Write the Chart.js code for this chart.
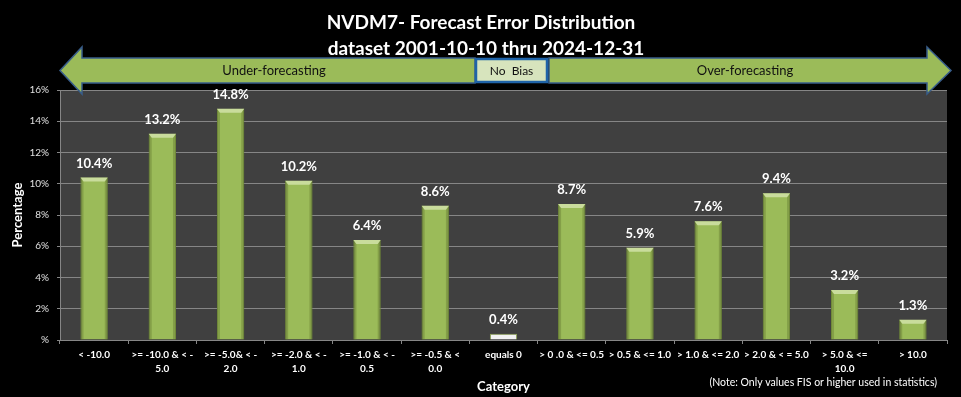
<!DOCTYPE html>
<html>
<head>
<meta charset="utf-8">
<script src="https://cdn.jsdelivr.net/npm/chart.js@4/dist/chart.umd.min.js"></script>
<style>
  html, body { margin: 0; padding: 0; background: #000; }
  #wrap { width: 961px; height: 397px; }
</style>
</head>
<body>
<div id="wrap"><canvas id="chart"></canvas></div>
<script>
const FONT = "Lato, 'Liberation Sans', Arial, sans-serif";

// categories (multi-line as in the original)
const categories = [
  ['< -10.0'],
  ['>= -10.0 & < -', '5.0'],
  ['>= -5.0& < -', '2.0'],
  ['>= -2.0 & < -', '1.0'],
  ['>= -1.0 & < -', '0.5'],
  ['>= -0.5 & <', '0.0'],
  ['equals 0'],
  ['> 0 .0 & <= 0.5'],
  ['> 0.5 & <= 1.0'],
  ['> 1.0 & <= 2.0'],
  ['> 2.0 & < = 5.0'],
  ['> 5.0 & <=', '10.0'],
  ['> 10.0']
];
const percentages = [10.4, 13.2, 14.8, 10.2, 6.4, 8.6, 0.4, 8.7, 5.9, 7.6, 9.4, 3.2, 1.3];
const yTicks = [0, 2, 4, 6, 8, 10, 12, 14, 16];
const titleLines = ['NVDM7- Forecast Error Distribution', 'dataset 2001-10-10 thru 2024-12-31'];
const zeroIndex = 6;

const frame = {
  id: 'frame',
  beforeDraw(chart) {
    const { ctx, chartArea: a } = chart;
    ctx.save();
    ctx.fillStyle = '#000';
    ctx.fillRect(0, 0, chart.width, chart.height);
    ctx.fillStyle = '#404040';
    ctx.fillRect(a.left, a.top, a.right - a.left, a.bottom - a.top);
    ctx.restore();
  },
  afterDatasetsDraw(chart) {
    const { ctx } = chart;
    const meta = chart.getDatasetMeta(0);
    ctx.save();
    meta.data.forEach((bar, i) => {
      const w = bar.width, l = bar.x - w / 2, r = bar.x + w / 2, t = bar.y, b = bar.base;
      if (i !== zeroIndex) {
        // side shading
        ctx.fillStyle = 'rgba(90,110,40,0.35)';
        ctx.fillRect(l, t, 3, b - t);
        ctx.fillRect(r - 3, t, 3, b - t);
        // top bevel
        ctx.fillStyle = '#c9dc9c';
        ctx.beginPath();
        ctx.moveTo(l, t); ctx.lineTo(r, t); ctx.lineTo(r - 3, t + 4); ctx.lineTo(l + 3, t + 4);
        ctx.closePath(); ctx.fill();
      }
      // value label
      ctx.fillStyle = '#fff';
      ctx.font = 'bold 13px ' + FONT;
      ctx.textAlign = 'center';
      ctx.textBaseline = 'middle';
      ctx.fillText(percentages[i].toFixed(1) + '%', bar.x, t - 14);
    });
    ctx.restore();
  },
  afterDraw(chart) {
    const { ctx } = chart;
    ctx.save();
    // title
    ctx.fillStyle = '#fff';
    ctx.textAlign = 'center';
    ctx.textBaseline = 'middle';
    ctx.font = 'bold 19px ' + FONT;
    ctx.fillText(titleLines[0], 481, 23);
    ctx.fillText(titleLines[1], 486, 49);

    // arrows
    ctx.fillStyle = '#9bbb59';
    ctx.strokeStyle = '#385d8a';
    ctx.lineWidth = 1.5;
    ctx.beginPath();
    ctx.moveTo(475, 58); ctx.lineTo(82, 58); ctx.lineTo(82, 47); ctx.lineTo(60, 70.5);
    ctx.lineTo(82, 94); ctx.lineTo(82, 83); ctx.lineTo(475, 83); ctx.closePath();
    ctx.fill(); ctx.stroke();
    ctx.beginPath();
    ctx.moveTo(549, 58); ctx.lineTo(927, 58); ctx.lineTo(927, 47); ctx.lineTo(951, 70.5);
    ctx.lineTo(927, 94); ctx.lineTo(927, 83); ctx.lineTo(549, 83); ctx.closePath();
    ctx.fill(); ctx.stroke();

    // no bias box
    ctx.fillStyle = '#d7e4bd';
    ctx.fillRect(476, 59, 71, 23);
    ctx.strokeStyle = '#1f63a8';
    ctx.lineWidth = 2.5;
    ctx.strokeRect(476, 59, 71, 23);

    ctx.fillStyle = '#111';
    ctx.font = '12px ' + FONT;
    ctx.fillText('No  Bias', 511.5, 71);
    ctx.font = '13px ' + FONT;
    ctx.fillText('Under-forecasting', 274, 71);
    ctx.fillText('Over-forecasting', 745, 71);

    // note
    ctx.fillStyle = '#fff';
    ctx.textAlign = 'right';
    ctx.font = '10.5px ' + FONT;
    ctx.fillText('(Note: Only values FIS or higher used in statistics)', 937, 383);
    ctx.restore();
  }
};

new Chart(document.getElementById('chart'), {
  type: 'bar',
  data: {
    labels: categories,
    datasets: [{
      data: percentages,
      backgroundColor: percentages.map((v, i) => i === zeroIndex ? '#f2f2f2' : '#9bbb59'),
      borderColor: percentages.map((v, i) => i === zeroIndex ? '#8aa24e' : '#7e9a44'),
      borderWidth: 1,
      barPercentage: 0.8,
      categoryPercentage: 0.5
    }]
  },
  options: {
    responsive: true,
    maintainAspectRatio: false,
    animation: false,
    layout: { padding: { top: 90, right: 14, left: 0, bottom: 0 } },
    plugins: { legend: { display: false }, tooltip: { enabled: false } },
    scales: {
      x: {
        afterFit: s => { s.height = 57; },
        grid: { drawOnChartArea: false, color: '#868686', tickLength: 4, offset: true },
        border: { color: '#868686' },
        ticks: {
          color: '#fff', maxRotation: 0, autoSkip: false, padding: 4,
          font: { family: FONT, size: 10, weight: 'bold', lineHeight: 1.4 }
        },
        title: {
          display: true, text: 'Category', color: '#fff',
          font: { family: FONT, size: 13, weight: 'bold', lineHeight: 1.2 },
          padding: { top: 0, bottom: 2 }
        }
      },
      y: {
        min: 0, max: 16,
        afterFit: s => { s.width = 60; },
        afterBuildTicks: s => { s.ticks = yTicks.map(v => ({ value: v })); },
        grid: { color: '#868686', tickLength: 3 },
        border: { color: '#868686' },
        ticks: {
          color: '#e0e0e0', padding: 8,
          font: { family: FONT, size: 10 },
          callback: v => v === 0 ? '%' : v + '%'
        },
        title: {
          display: true, text: 'Percentage', color: '#fff',
          font: { family: FONT, size: 13, weight: 'bold', lineHeight: 1.2 },
          padding: { top: 10, bottom: 0 }
        }
      }
    }
  },
  plugins: [frame]
});
</script>
</body>
</html>
